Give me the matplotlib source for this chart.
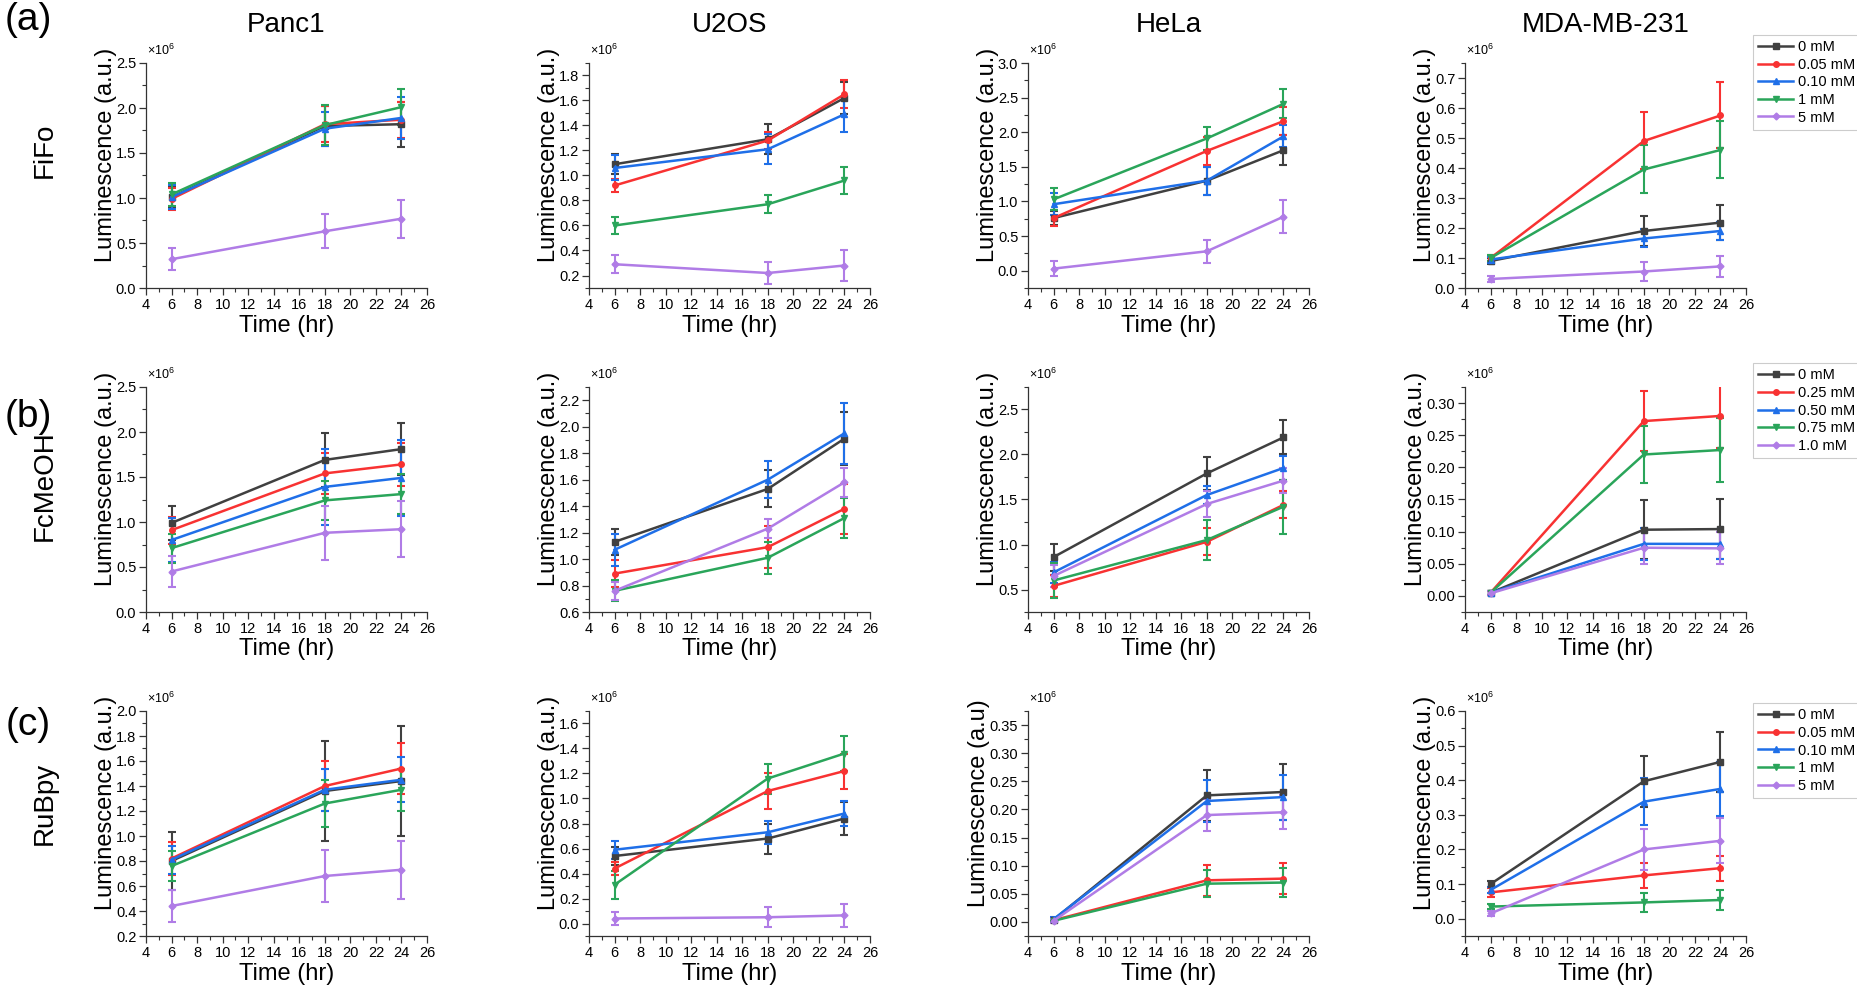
import matplotlib
matplotlib.use("Agg")
import matplotlib.pyplot as plt
from matplotlib.lines import Line2D
from matplotlib.ticker import MultipleLocator, AutoMinorLocator, FormatStrFormatter

plt.rcParams['font.family'] = ['Liberation Sans', 'DejaVu Sans']

# ---- data (luminescence, x10^6) ----
time_hr = [6, 18, 24]
cells = ['Panc1', 'U2OS', 'HeLa', 'MDA-MB-231']
agents = ['FiFo', 'FcMeOH', 'RuBpy']
row_tags = ['(a)', '(b)', '(c)']
doses_fifo = ['0 mM', '0.05 mM', '0.10 mM', '1 mM', '5 mM']
doses_fcmeoh = ['0 mM', '0.25 mM', '0.50 mM', '0.75 mM', '1.0 mM']
doses_rubpy = ['0 mM', '0.05 mM', '0.10 mM', '1 mM', '5 mM']

# FiFo
fifo_panc1 = [[1.01, 1.80, 1.82], [0.99, 1.82, 1.87], [1.01, 1.77, 1.89], [1.04, 1.81, 2.01], [0.32, 0.63, 0.77]]
fifo_panc1_sd = [[0.12, 0.22, 0.25], [0.12, 0.20, 0.20], [0.13, 0.19, 0.23], [0.13, 0.22, 0.20], [0.12, 0.19, 0.21]]
fifo_u2os = [[1.09, 1.29, 1.62], [0.92, 1.28, 1.65], [1.06, 1.21, 1.49], [0.60, 0.77, 0.96], [0.29, 0.22, 0.28]]
fifo_u2os_sd = [[0.08, 0.12, 0.13], [0.05, 0.07, 0.11], [0.10, 0.12, 0.14], [0.07, 0.07, 0.11], [0.07, 0.09, 0.12]]
fifo_hela = [[0.76, 1.30, 1.74], [0.76, 1.73, 2.16], [0.96, 1.30, 1.94], [1.03, 1.91, 2.41], [0.03, 0.28, 0.78]]
fifo_hela_sd = [[0.10, 0.20, 0.22], [0.11, 0.20, 0.20], [0.16, 0.20, 0.16], [0.16, 0.17, 0.21], [0.11, 0.17, 0.24]]
fifo_mda = [[0.090, 0.190, 0.218], [0.100, 0.490, 0.575], [0.095, 0.165, 0.190], [0.100, 0.395, 0.460], [0.030, 0.055, 0.072]]
fifo_mda_sd = [[0.010, 0.050, 0.058], [0.010, 0.095, 0.110], [0.010, 0.030, 0.030], [0.010, 0.080, 0.095], [0.010, 0.033, 0.034]]

# FcMeOH
fcmeoh_panc1 = [[0.99, 1.69, 1.81], [0.91, 1.54, 1.64], [0.80, 1.39, 1.49], [0.71, 1.24, 1.31], [0.45, 0.88, 0.92]]
fcmeoh_panc1_sd = [[0.19, 0.30, 0.29], [0.15, 0.23, 0.24], [0.24, 0.42, 0.42], [0.16, 0.22, 0.22], [0.17, 0.30, 0.31]]
fcmeoh_u2os = [[1.13, 1.53, 1.91], [0.89, 1.09, 1.38], [1.07, 1.60, 1.95], [0.76, 1.01, 1.31], [0.76, 1.23, 1.58]]
fcmeoh_u2os_sd = [[0.10, 0.14, 0.20], [0.10, 0.16, 0.19], [0.12, 0.14, 0.23], [0.08, 0.12, 0.15], [0.07, 0.07, 0.11]]
fcmeoh_hela = [[0.86, 1.79, 2.19], [0.54, 1.03, 1.44], [0.69, 1.55, 1.85], [0.60, 1.05, 1.42], [0.65, 1.45, 1.71]]
fcmeoh_hela_sd = [[0.15, 0.18, 0.19], [0.12, 0.15, 0.15], [0.12, 0.10, 0.13], [0.19, 0.22, 0.30], [0.12, 0.14, 0.14]]
fcmeoh_mda = [[0.005, 0.103, 0.104], [0.005, 0.272, 0.280], [0.005, 0.081, 0.081], [0.005, 0.220, 0.227], [0.004, 0.075, 0.074]]
fcmeoh_mda_sd = [[0.003, 0.046, 0.047], [0.003, 0.046, 0.050], [0.003, 0.025, 0.023], [0.003, 0.045, 0.050], [0.003, 0.026, 0.025]]

# RuBpy
rubpy_panc1 = [[0.80, 1.36, 1.44], [0.82, 1.40, 1.54], [0.81, 1.37, 1.45], [0.76, 1.26, 1.37], [0.44, 0.68, 0.73]]
rubpy_panc1_sd = [[0.23, 0.40, 0.44], [0.13, 0.20, 0.20], [0.11, 0.17, 0.18], [0.12, 0.19, 0.17], [0.13, 0.21, 0.23]]
rubpy_u2os = [[0.54, 0.68, 0.84], [0.44, 1.06, 1.22], [0.59, 0.73, 0.88], [0.31, 1.16, 1.36], [0.04, 0.05, 0.065]]
rubpy_u2os_sd = [[0.07, 0.12, 0.13], [0.05, 0.14, 0.14], [0.07, 0.09, 0.10], [0.11, 0.12, 0.14], [0.05, 0.08, 0.09]]
rubpy_hela = [[0.004, 0.225, 0.231], [0.003, 0.074, 0.077], [0.005, 0.215, 0.222], [0.002, 0.068, 0.070], [0.002, 0.190, 0.195]]
rubpy_hela_sd = [[0.003, 0.046, 0.050], [0.002, 0.027, 0.028], [0.004, 0.038, 0.040], [0.002, 0.024, 0.026], [0.003, 0.029, 0.030]]
rubpy_mda = [[0.100, 0.397, 0.453], [0.076, 0.125, 0.146], [0.083, 0.338, 0.375], [0.035, 0.047, 0.054], [0.015, 0.200, 0.225]]
rubpy_mda_sd = [[0.008, 0.073, 0.087], [0.012, 0.035, 0.036], [0.008, 0.068, 0.077], [0.006, 0.028, 0.029], [0.008, 0.058, 0.065]]

rows = [
    (doses_fifo, [(fifo_panc1, fifo_panc1_sd), (fifo_u2os, fifo_u2os_sd), (fifo_hela, fifo_hela_sd), (fifo_mda, fifo_mda_sd)]),
    (doses_fcmeoh, [(fcmeoh_panc1, fcmeoh_panc1_sd), (fcmeoh_u2os, fcmeoh_u2os_sd), (fcmeoh_hela, fcmeoh_hela_sd), (fcmeoh_mda, fcmeoh_mda_sd)]),
    (doses_rubpy, [(rubpy_panc1, rubpy_panc1_sd), (rubpy_u2os, rubpy_u2os_sd), (rubpy_hela, rubpy_hela_sd), (rubpy_mda, rubpy_mda_sd)]),
]

# axis setup per panel: (ymin, ymax, major step, decimals)
yaxes = [
    [(0, 2.5, 0.5, 1), (0.1, 1.9, 0.2, 1), (-0.25, 3.0, 0.5, 1), (0, 0.75, 0.1, 1)],
    [(0, 2.5, 0.5, 1), (0.6, 2.3, 0.2, 1), (0.25, 2.75, 0.5, 1), (-0.025, 0.325, 0.05, 2)],
    [(0.2, 2.0, 0.2, 1), (-0.1, 1.7, 0.2, 1), (-0.025, 0.375, 0.05, 2), (-0.05, 0.6, 0.1, 1)],
]

colors = ['#404040', '#f83232', '#1f6fe8', '#2aa55a', '#b07ce6']
markers = ['s', 'o', '^', 'v', 'D']

# ---- layout (pixels) ----
W, H = 1857, 996
col_left = [146, 589, 1028, 1465]
row_top = [63, 387, 711]
AW, AH = 281, 225
tag_y = [20, 417, 725]
agent_y = [150, 486, 803]
legend_top = [1.125, 1.105, 1.035]
ylabel_x = {1: -0.103, 2: -0.135}

fig = plt.figure(figsize=(W / 100, H / 100), dpi=100)

for r in range(3):
    doses, panels = rows[r]
    for c in range(4):
        ax = fig.add_axes([col_left[c] / W, (H - row_top[r] - AH) / H, AW / W, AH / H])
        means, sds = panels[c]
        for k in range(5):
            ax.errorbar(time_hr, means[k], yerr=sds[k], color=colors[k], marker=markers[k],
                        ms=4 if k < 4 else 3.5, lw=1.8, elinewidth=1.5, capsize=3, capthick=1.5)
        y0, y1, step, dec = yaxes[r][c]
        ax.set_xlim(4, 26)
        ax.set_ylim(y0, y1)
        ax.xaxis.set_major_locator(MultipleLocator(2))
        ax.xaxis.set_minor_locator(AutoMinorLocator(2))
        ax.yaxis.set_major_locator(MultipleLocator(step))
        ax.yaxis.set_minor_locator(AutoMinorLocator(2))
        ax.yaxis.set_major_formatter(FormatStrFormatter('%%.%df' % dec))
        for s in ['top', 'right']:
            ax.spines[s].set_visible(False)
        for s in ['left', 'bottom']:
            ax.spines[s].set_linewidth(0.9)
            ax.spines[s].set_color('#333333')
        ax.tick_params(which='major', direction='out', length=5, width=0.9, labelsize=10.5, pad=2, color='#333333')
        ax.tick_params(which='minor', direction='out', length=3, width=0.8, color='#333333')
        ax.set_xlabel('Time (hr)', fontsize=17, labelpad=2)
        ylab = 'Luminescence (a.u)' if (r == 2 and c == 2) else 'Luminescence (a.u.)'
        ax.set_ylabel(ylab, fontsize=17)
        ax.yaxis.set_label_coords(ylabel_x[dec], 0.59)
        ax.text(0.005, 1.022, r'$\mathregular{\times10^{6}}$', transform=ax.transAxes,
                ha='left', va='bottom', fontsize=9)
        if r == 0:
            fig.text((col_left[c] + AW / 2) / W, 1 - 25 / H, cells[c], ha='center', va='center', fontsize=20)
        if c == 3:
            handles = [Line2D([], [], color=colors[k], marker=markers[k], ms=4 if k < 4 else 3.5, lw=1.8)
                       for k in range(5)]
            leg = ax.legend(handles, doses, loc='upper left', bbox_to_anchor=(1.025, legend_top[r]),
                            borderaxespad=0, fontsize=10.5, frameon=True, fancybox=False, framealpha=1,
                            edgecolor='#cccccc', borderpad=0.35, handlelength=2.4,
                            handletextpad=0.3, labelspacing=0.25)
            leg.get_frame().set_linewidth(0.8)
    fig.text(28 / W, 1 - tag_y[r] / H, row_tags[r], ha='center', va='center', fontsize=28)
    fig.text(45 / W, 1 - agent_y[r] / H, agents[r], ha='center', va='center', rotation=90, fontsize=20)

fig.savefig('out.png', dpi=100, facecolor='white')
